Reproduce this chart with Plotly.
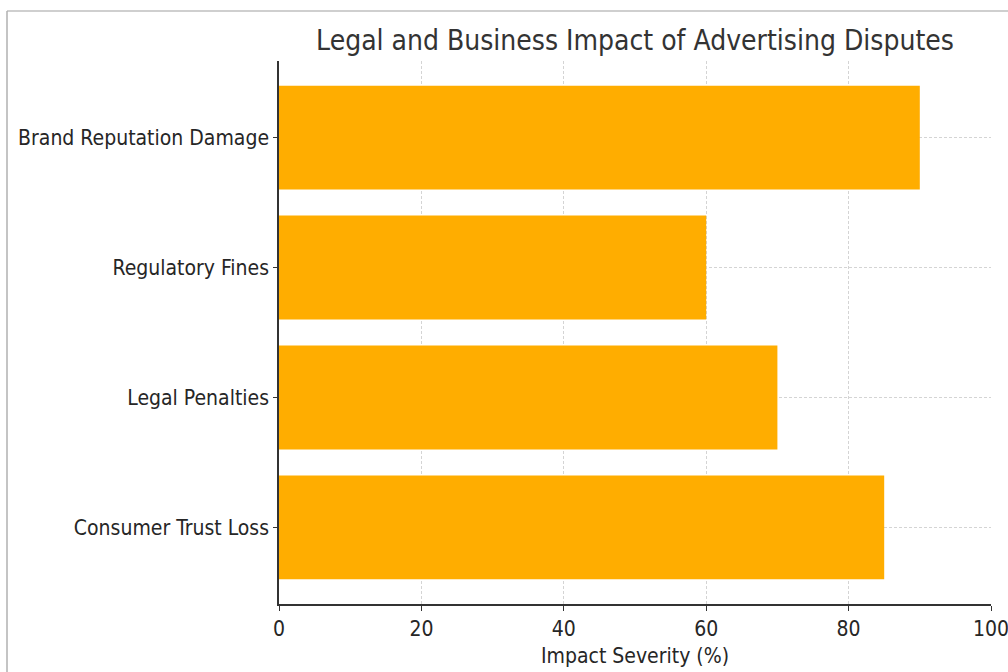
import plotly.graph_objects as go

categories = ["Consumer Trust Loss", "Legal Penalties", "Regulatory Fines", "Brand Reputation Damage"]
values = [85, 70, 60, 90]
x_ticks = [0, 20, 40, 60, 80, 100]

FONT = "DejaVu Sans Condensed, DejaVu Sans, sans-serif"
BAR_COLOR = "#FFAD00"

fig = go.Figure()
fig.add_trace(go.Bar(
    y=categories, x=values, orientation="h",
    marker=dict(color=BAR_COLOR, line=dict(width=0)),
    width=0.8,
))

L, R, T, B = 279, 17, 61, 68
W, H = 1008, 672
pw, ph = W - L - R, H - T - B

def px(x):
    return (x - L) / pw

def py(y):
    return (H - B - y) / ph

fig.update_layout(
    width=W, height=H,
    margin=dict(l=L, r=R, t=T, b=B, autoexpand=False),
    paper_bgcolor="white", plot_bgcolor="white",
    font=dict(family=FONT, size=21, color="#262626"),
    title=dict(text="Legal and Business Impact of Advertising Disputes",
               xref="container", x=635 / W, xanchor="center",
               yref="container", y=1 - 40 / H, yanchor="middle",
               font=dict(size=28, color="#333333")),
    showlegend=False,
    bargap=0.2,
    xaxis=dict(
        range=[0, 100], tickvals=x_ticks, ticktext=[str(v) for v in x_ticks],
        showgrid=True, gridcolor="#d4d4d4", griddash="3px,2px", gridwidth=1,
        showline=True, linecolor="#333333", linewidth=1.5,
        ticks="outside", ticklen=5, tickcolor="#333333",
        zeroline=False, ticklabeloverflow="allow", automargin=False,
        title=dict(text="Impact Severity (%)", font=dict(size=21), standoff=8),
        tickfont=dict(size=21),
    ),
    yaxis=dict(
        range=[-0.59, 3.59],
        showgrid=True, gridcolor="#d4d4d4", griddash="3px,2px", gridwidth=1,
        showline=True, linecolor="#333333", linewidth=1.5,
        ticks="outside", ticklen=4, tickcolor="#333333",
        zeroline=False, tickfont=dict(size=21), automargin=False,
    ),
    shapes=[
        dict(type="line", xref="paper", yref="paper", x0=px(7), x1=px(1008), y0=py(11), y1=py(11),
             line=dict(color="#cfcfcf", width=2)),
        dict(type="line", xref="paper", yref="paper", x0=px(7), x1=px(7), y0=py(11), y1=py(672),
             line=dict(color="#b0b0b0", width=1.5)),
    ],
)

fig.write_html("out.html")
